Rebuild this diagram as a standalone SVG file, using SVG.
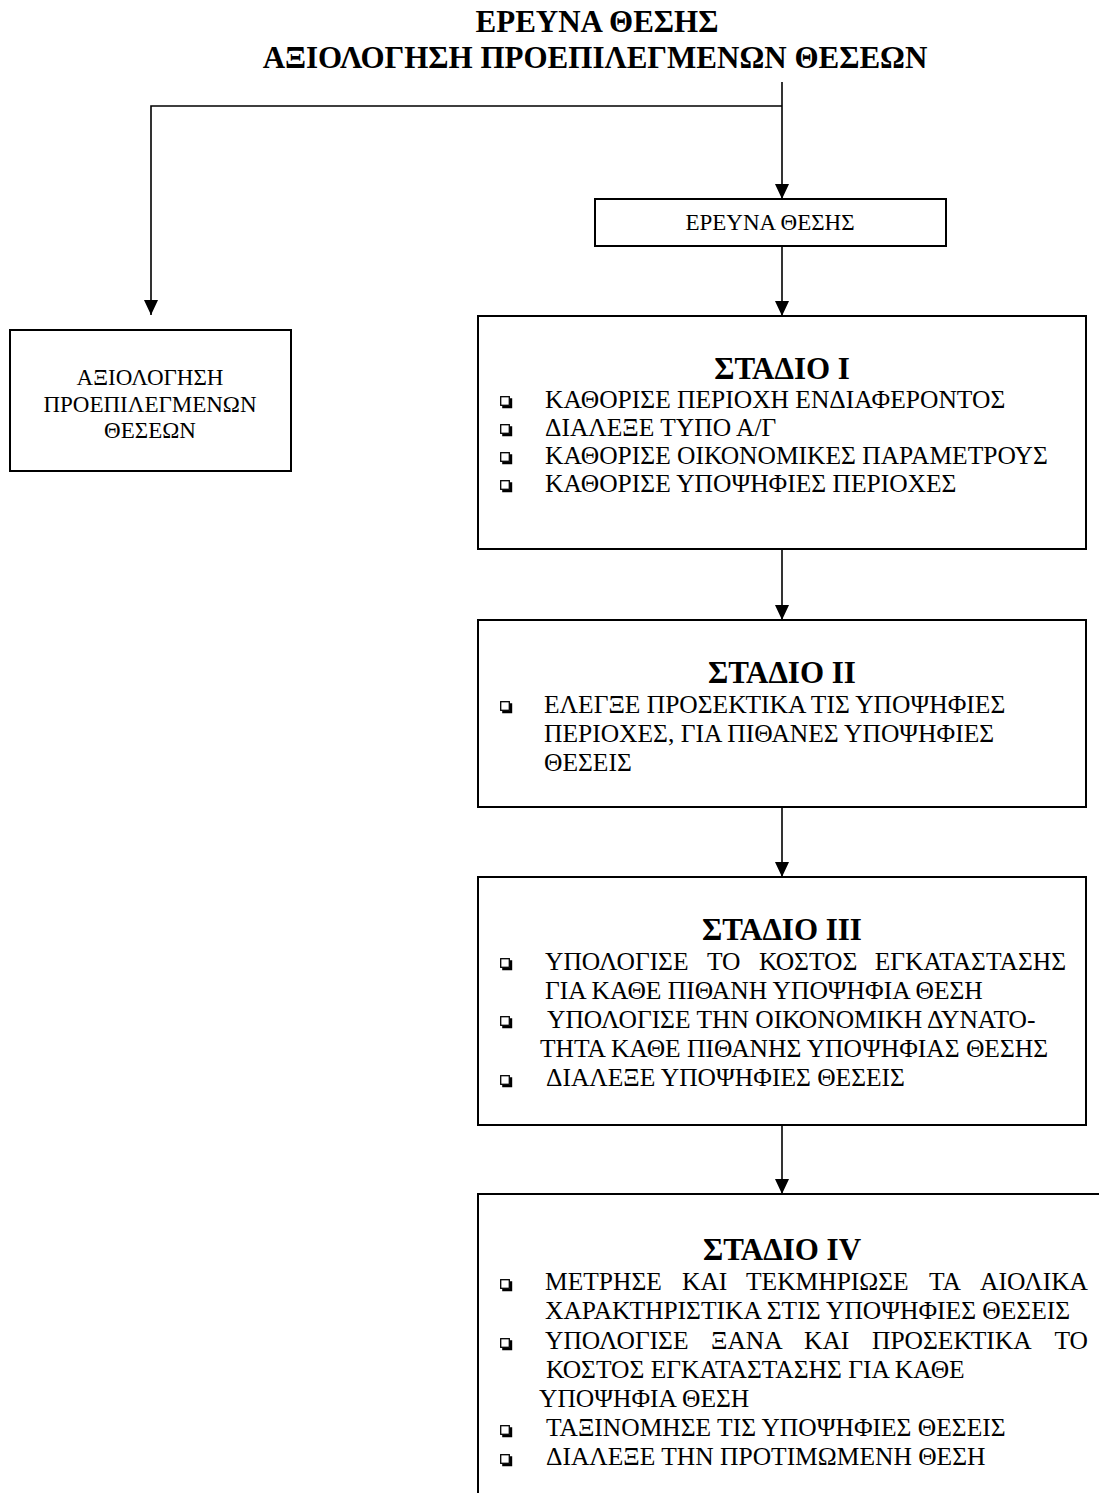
<svg xmlns="http://www.w3.org/2000/svg" xmlns:xlink="http://www.w3.org/1999/xlink" width="1099" height="1493" viewBox="0 0 1099 1493">
<style>
text{font-family:"Liberation Serif","Times New Roman",serif;fill:#000}
.title{font-size:31px;font-weight:bold;text-anchor:middle}
.head{font-size:31px;font-weight:bold;text-anchor:middle}
.lbl{font-size:23px;text-anchor:middle}
.item{font-size:25.5px}
.end{text-anchor:end}
.box{fill:#fff;stroke:#000;stroke-width:2}
.conn{fill:none;stroke:#000;stroke-width:1.6}
</style>
<defs>
<marker id="ah" markerUnits="userSpaceOnUse" markerWidth="15" markerHeight="14" refX="15" refY="7" orient="auto" viewBox="0 0 15 14">
<path d="M0,0 L15,7 L0,14 Z" fill="#000"/>
</marker>
<g id="bx">
<rect x="0.7" y="0.7" width="8.6" height="8.6" fill="#fff" stroke="#000" stroke-width="1.3"/>
<path d="M10 2.2 H12.2 V12.2 H2.2 V10 H10 Z" fill="#000"/>
</g>
</defs>
<rect width="1099" height="1493" fill="#fff"/>

<g id="title">
<text class="title" x="597" y="32">ΕΡΕΥΝΑ ΘΕΣΗΣ</text>
<text class="title" x="595" y="68">ΑΞΙΟΛΟΓΗΣΗ ΠΡΟΕΠΙΛΕΓΜΕΝΩΝ ΘΕΣΕΩΝ</text>
</g>

<g id="connectors">
<path class="conn" d="M782 82 V199" marker-end="url(#ah)"/>
<path class="conn" d="M782 106 H151 V315" marker-end="url(#ah)"/>
<path class="conn" d="M782 246 V316" marker-end="url(#ah)"/>
<path class="conn" d="M782 549 V620" marker-end="url(#ah)"/>
<path class="conn" d="M782 807 V877" marker-end="url(#ah)"/>
<path class="conn" d="M782 1125 V1194" marker-end="url(#ah)"/>
</g>

<g id="node-research">
<rect class="box" x="595" y="199" width="351" height="47"/>
<text class="lbl" x="770" y="230">ΕΡΕΥΝΑ ΘΕΣΗΣ</text>
</g>

<g id="node-evaluation">
<rect class="box" x="10" y="330" width="281" height="141"/>
<text class="lbl" x="150" y="385">ΑΞΙΟΛΟΓΗΣΗ</text>
<text class="lbl" x="150" y="412">ΠΡΟΕΠΙΛΕΓΜΕΝΩΝ</text>
<text class="lbl" x="150" y="438">ΘΕΣΕΩΝ</text>
</g>

<g id="node-stage1">
<rect class="box" x="478" y="316" width="608" height="233"/>
<text class="head" x="782" y="379">ΣΤΑΔΙΟ Ι</text>
<use xlink:href="#bx" x="500" y="396"/>
<text class="item" x="545" y="407.5">ΚΑΘΟΡΙΣΕ ΠΕΡΙΟΧΗ ΕΝΔΙΑΦΕΡΟΝΤΟΣ</text>
<use xlink:href="#bx" x="500" y="424"/>
<text class="item" x="545" y="435.5">ΔΙΑΛΕΞΕ ΤΥΠΟ Α/Γ</text>
<use xlink:href="#bx" x="500" y="452"/>
<text class="item" x="545" y="463.5">ΚΑΘΟΡΙΣΕ ΟΙΚΟΝΟΜΙΚΕΣ ΠΑΡΑΜΕΤΡΟΥΣ</text>
<use xlink:href="#bx" x="500" y="480"/>
<text class="item" x="545" y="491.5">ΚΑΘΟΡΙΣΕ ΥΠΟΨΗΦΙΕΣ ΠΕΡΙΟΧΕΣ</text>
</g>

<g id="node-stage2">
<rect class="box" x="478" y="620" width="608" height="187"/>
<text class="head" x="782" y="683">ΣΤΑΔΙΟ ΙΙ</text>
<use xlink:href="#bx" x="500" y="701"/>
<text class="item" x="544" y="712.5">ΕΛΕΓΞΕ ΠΡΟΣΕΚΤΙΚΑ ΤΙΣ ΥΠΟΨΗΦΙΕΣ</text>
<text class="item" x="544" y="741.5">ΠΕΡΙΟΧΕΣ, ΓΙΑ ΠΙΘΑΝΕΣ ΥΠΟΨΗΦΙΕΣ</text>
<text class="item" x="544" y="770.5">ΘΕΣΕΙΣ</text>
</g>

<g id="node-stage3">
<rect class="box" x="478" y="877" width="608" height="248"/>
<text class="head" x="782" y="940">ΣΤΑΔΙΟ ΙΙΙ</text>
<use xlink:href="#bx" x="500" y="958"/>
<text class="item" y="969.5"><tspan x="545">ΥΠΟΛΟΓΙΣΕ</tspan><tspan x="707">ΤΟ</tspan><tspan x="759">ΚΟΣΤΟΣ</tspan></text>
<text class="item end" x="1066" y="969.5">ΕΓΚΑΤΑΣΤΑΣΗΣ</text>
<text class="item" x="545" y="998.5">ΓΙΑ ΚΑΘΕ ΠΙΘΑΝΗ ΥΠΟΨΗΦΙΑ ΘΕΣΗ</text>
<use xlink:href="#bx" x="500" y="1016"/>
<text class="item" x="547" y="1027.5">ΥΠΟΛΟΓΙΣΕ ΤΗΝ ΟΙΚΟΝΟΜΙΚΗ ΔΥΝΑΤΟ-</text>
<text class="item" x="540" y="1056.5">ΤΗΤΑ ΚΑΘΕ ΠΙΘΑΝΗΣ ΥΠΟΨΗΦΙΑΣ ΘΕΣΗΣ</text>
<use xlink:href="#bx" x="500" y="1075"/>
<text class="item" x="546" y="1086">ΔΙΑΛΕΞΕ ΥΠΟΨΗΦΙΕΣ ΘΕΣΕΙΣ</text>
</g>

<g id="node-stage4">
<rect class="box" x="478" y="1194" width="640" height="340"/>
<text class="head" x="782" y="1260">ΣΤΑΔΙΟ IV</text>
<use xlink:href="#bx" x="500" y="1279"/>
<text class="item" y="1290"><tspan x="545">ΜΕΤΡΗΣΕ</tspan><tspan x="682">ΚΑΙ</tspan><tspan x="746">ΤΕΚΜΗΡΙΩΣΕ</tspan><tspan x="929">ΤΑ</tspan></text>
<text class="item end" x="1088" y="1290">ΑΙΟΛΙΚΑ</text>
<text class="item" x="545" y="1319">ΧΑΡΑΚΤΗΡΙΣΤΙΚΑ ΣΤΙΣ ΥΠΟΨΗΦΙΕΣ ΘΕΣΕΙΣ</text>
<use xlink:href="#bx" x="500" y="1338"/>
<text class="item" y="1349"><tspan x="545">ΥΠΟΛΟΓΙΣΕ</tspan><tspan x="711">ΞΑΝΑ</tspan><tspan x="804">ΚΑΙ</tspan><tspan x="872">ΠΡΟΣΕΚΤΙΚΑ</tspan></text>
<text class="item end" x="1088" y="1349">ΤΟ</text>
<text class="item" x="546" y="1378">ΚΟΣΤΟΣ ΕΓΚΑΤΑΣΤΑΣΗΣ ΓΙΑ ΚΑΘΕ</text>
<text class="item" x="539" y="1407">ΥΠΟΨΗΦΙΑ ΘΕΣΗ</text>
<use xlink:href="#bx" x="500" y="1425"/>
<text class="item" x="546" y="1436">ΤΑΞΙΝΟΜΗΣΕ ΤΙΣ ΥΠΟΨΗΦΙΕΣ ΘΕΣΕΙΣ</text>
<use xlink:href="#bx" x="500" y="1454"/>
<text class="item" x="546" y="1465">ΔΙΑΛΕΞΕ ΤΗΝ ΠΡΟΤΙΜΩΜΕΝΗ ΘΕΣΗ</text>
</g>
</svg>
